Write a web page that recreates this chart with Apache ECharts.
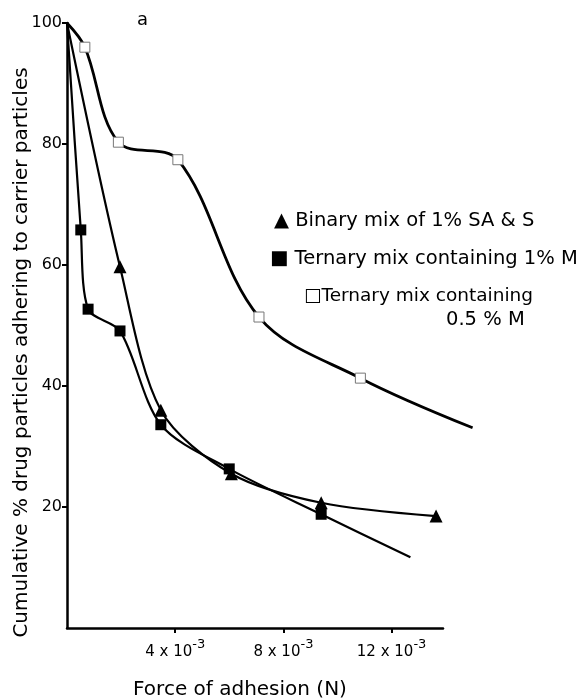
<!DOCTYPE html>
<html>
<head>
<meta charset="utf-8">
<script src="https://cdn.jsdelivr.net/npm/echarts@6/dist/echarts.min.js"></script>
<style>
  html, body { margin: 0; padding: 0; background: #fff; }
  #chart { width: 584px; height: 700px; }
</style>
</head>
<body>
<div id="chart"></div>
<script>
// force values in units of 1e-3 N, cumulative % adhering
const binaryX = [0, 1.96, 3.47, 6.08, 9.4, 13.65]
const binaryY = [100, 59.7, 36.0, 25.5, 20.7, 18.5]

const ternary1X = [0, 0.51, 0.78, 1.96, 3.47, 6.0, 9.4, 12.7]
const ternary1Y = [100, 65.8, 52.7, 49.1, 33.6, 26.3, 18.8, 11.7]

const ternary05X = [0, 0.66, 1.9, 4.1, 7.1, 10.85, 15.0]
const ternary05Y = [100, 96.0, 80.3, 77.4, 51.4, 41.3, 33.1]

const xTicks = [4, 8, 12]
const yTicks = [20, 40, 60, 80, 100]

const font = 'DejaVu Sans'

// first point is the origin of the curve, last ones without marker are curve ends
function build(xs, ys, bare) {
  return xs.map((x, i) => {
    const item = { value: [x, ys[i]] }
    if (i === 0 || bare.indexOf(i) >= 0) item.symbol = 'none'
    return item
  })
}

const chart = echarts.init(document.getElementById('chart'))

chart.setOption({
  animation: false,
  backgroundColor: '#fff',
  // grid 0 holds the visible axes, grid 1 (same scale, a bit wider) holds the curves
  grid: [
    { left: 67, top: 23, right: 141, bottom: 72, outerBoundsMode: 'none' },
    { left: 67, top: 23, right: 106, bottom: 72, outerBoundsMode: 'none' }
  ],
  xAxis: [
    {
      gridIndex: 0,
      type: 'value',
      min: 0,
      max: 13.9,
      interval: 4,
      splitLine: { show: false },
      axisLine: { lineStyle: { color: '#000', width: 2.5 } },
      axisTick: { length: 5, customValues: xTicks, lineStyle: { color: '#000', width: 2 } },
      axisLabel: {
        margin: 10,
        customValues: xTicks,
        color: '#000',
        fontFamily: font,
        formatter: function (v) {
          return '{n|' + v + ' x 10}{s|-3}'
        },
        rich: {
          n: { fontSize: 15, fontFamily: font, color: '#000', verticalAlign: 'bottom', lineHeight: 22 },
          s: { fontSize: 13, fontFamily: font, color: '#000', verticalAlign: 'top', lineHeight: 22, padding: [0, 0, 10, 0] }
        }
      },
      name: 'Force of adhesion (N)',
      nameLocation: 'middle',
      nameGap: 52,
      nameMoveOverlap: false,
      nameTextStyle: { fontSize: 20, fontFamily: font, color: '#000', padding: [0, 30, 0, 0] }
    },
    {
      gridIndex: 1,
      type: 'value',
      min: 0,
      max: 15.2,
      show: false
    }
  ],
  yAxis: [
    {
      gridIndex: 0,
      type: 'value',
      min: 0,
      max: 100,
      interval: 20,
      splitLine: { show: false },
      axisLine: { show: true, lineStyle: { color: '#000', width: 2.5 } },
      axisTick: { show: true, length: 5, customValues: yTicks, lineStyle: { color: '#000', width: 2 } },
      axisLabel: {
        margin: 5,
        customValues: yTicks,
        fontSize: 16,
        fontFamily: font,
        color: '#000'
      },
      name: 'Cumulative % drug particles adhering to carrier particles',
      nameLocation: 'middle',
      nameGap: 35,
      nameMoveOverlap: false,
      nameTextStyle: { fontSize: 20, fontFamily: font, color: '#000', padding: [0, 54, 0, 0] }
    },
    {
      gridIndex: 1,
      type: 'value',
      min: 0,
      max: 100,
      show: false
    }
  ],
  series: [
    {
      name: 'Binary mix of 1% SA & S',
      type: 'line',
      xAxisIndex: 1,
      yAxisIndex: 1,
      smooth: 0.3,
      symbol: 'triangle',
      symbolSize: 13,
      itemStyle: { color: '#000' },
      lineStyle: { color: '#000', width: 2.2 },
      data: build(binaryX, binaryY, [])
    },
    {
      name: 'Ternary mix containing 1% M',
      type: 'line',
      xAxisIndex: 1,
      yAxisIndex: 1,
      smooth: 0.3,
      symbol: 'rect',
      symbolSize: 11,
      itemStyle: { color: '#000' },
      lineStyle: { color: '#000', width: 2.2 },
      data: build(ternary1X, ternary1Y, [ternary1X.length - 1])
    },
    {
      name: 'Ternary mix containing 0.5 % M',
      type: 'line',
      xAxisIndex: 1,
      yAxisIndex: 1,
      smooth: 0.35,
      symbol: 'rect',
      symbolSize: 10,
      itemStyle: { color: '#fff', borderColor: '#777', borderWidth: 1 },
      lineStyle: { color: '#000', width: 2.8 },
      data: build(ternary05X, ternary05Y, [ternary05X.length - 1])
    }
  ],
  graphic: [
    { type: 'text', x: 137, y: 20, style: { text: 'a', fontSize: 18, fontFamily: font, fill: '#000', verticalAlign: 'middle' } },
    { type: 'text', x: 274, y: 221, style: { text: '\u25B2 Binary mix of 1% SA & S', fontSize: 19.5, fontFamily: font, fill: '#000', verticalAlign: 'middle' } },
    { type: 'text', x: 270, y: 259, style: { text: '\u25A0 Ternary mix containing 1% M', fontSize: 19.5, fontFamily: font, fill: '#000', verticalAlign: 'middle' } },
    { type: 'text', x: 304, y: 296, style: { text: '\u25A1Ternary mix containing', fontSize: 18.5, fontFamily: font, fill: '#000', verticalAlign: 'middle' } },
    { type: 'text', x: 446, y: 320, style: { text: '0.5 % M', fontSize: 19.5, fontFamily: font, fill: '#000', verticalAlign: 'middle' } }
  ]
})
</script>
</body>
</html>
